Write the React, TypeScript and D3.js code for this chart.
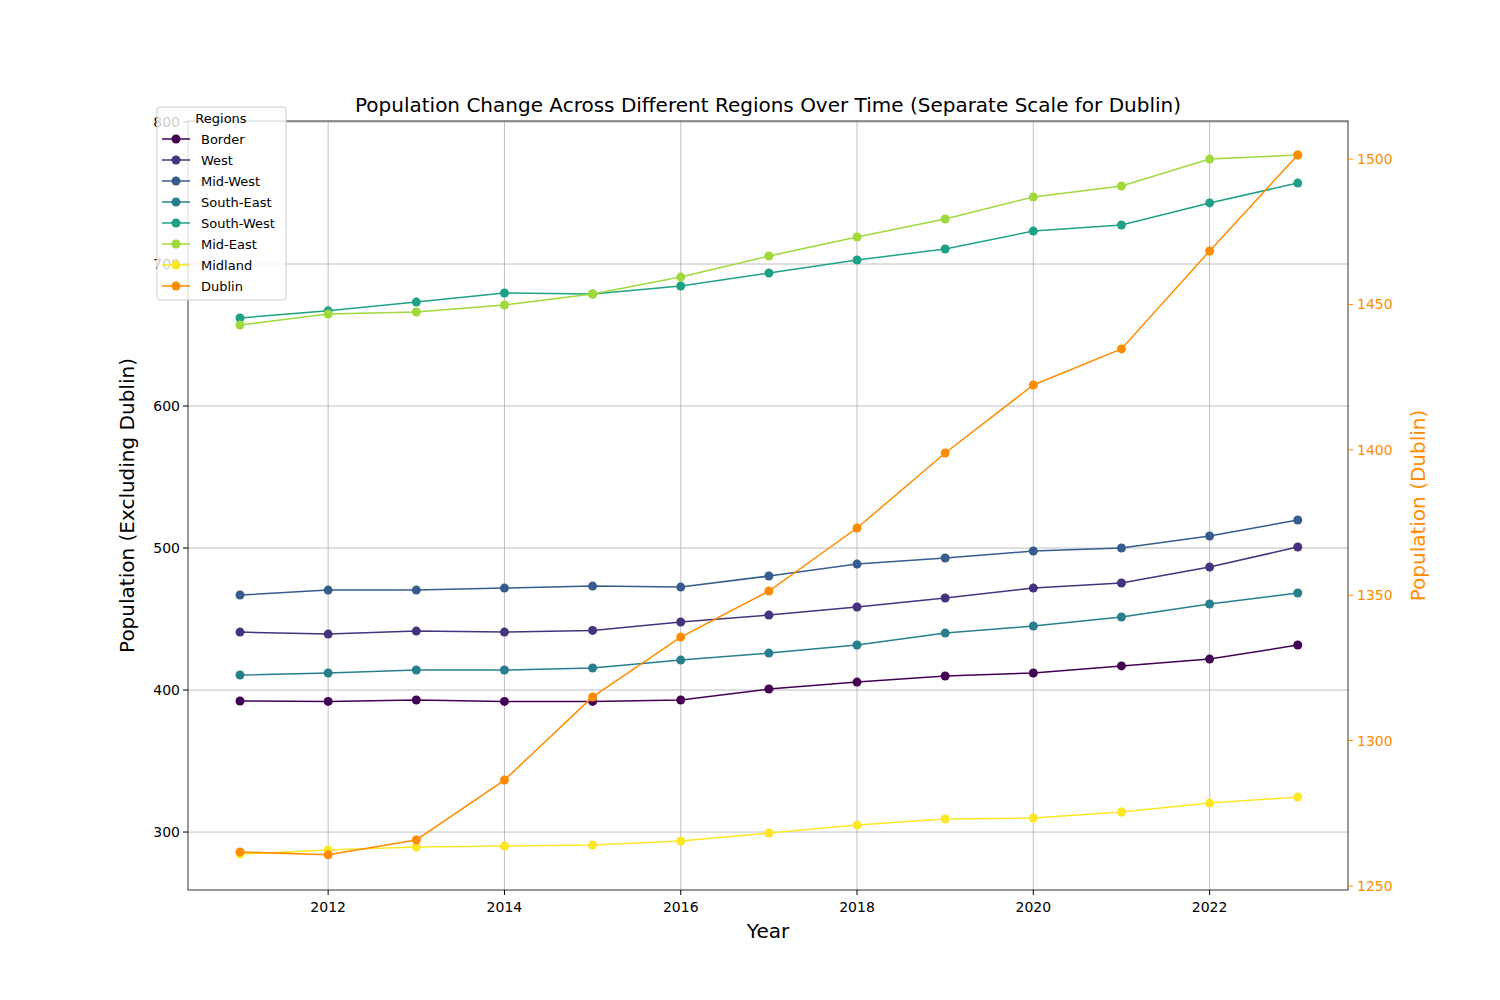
import React from "react";
import * as d3 from "d3";

const years = [2011,2012,2013,2014,2015,2016,2017,2018,2019,2020,2021,2022,2023];
const regionNames = ["Border","West","Mid-West","South-East","South-West","Mid-East","Midland"];
const regionColors = ["#440154","#46327e","#365c8d","#277f8e","#1fa187","#9fda3a","#fde725"];
const border = [392.3,392,393,392,392,393,400.7,405.6,409.9,412,417,421.8,431.7];
const west = [440.8,439.4,441.5,440.8,442,447.9,452.8,458.5,464.8,471.8,475.4,486.6,500.7];
const midWest = [466.9,470.4,470.4,471.8,473.2,472.5,480.3,488.7,493,497.9,500,508.5,519.7];
const southEast = [410.6,412,414.1,414.1,415.5,421.1,426,431.7,440.1,445.1,451.4,460.6,468.3];
const southWest = [662,667,673.2,679.6,678.9,684.5,693.7,702.8,710.6,723.2,727.5,743,757];
const midEast = [657,664.8,666.2,671.1,678.9,690.8,705.6,719,731.7,747.2,754.9,773.9,776.8];
const midland = [284.5,287.3,289.4,290.1,290.8,293.7,299.3,304.9,309.2,309.9,314.1,320.4,324.6];
const dublin = [1261.7,1260.7,1265.8,1286.4,1315,1335.6,1351.4,1373.1,1398.9,1422.3,1434.7,1468.4,1501.4];
const series = [border, west, midWest, southEast, southWest, midEast, midland];
const xTicks = [2012,2014,2016,2018,2020,2022];
const yTicks = [300,400,500,600,700,800];
const y2Ticks = [1250,1300,1350,1400,1450,1500];

const L = 188, R = 1348, T = 121, B = 890;
const font = "DejaVu Sans, sans-serif";
const orange = "#ff8c00";

export default function App() {
  const x = d3.scaleLinear().domain([2010.41, 2023.57]).range([L, R]);
  const y = d3.scaleLinear().domain([259.2, 800.7]).range([B, T]);
  const y2 = d3.scaleLinear().domain([1248.6, 1513.1]).range([B, T]);
  const colors = regionColors;
  const line = (ys: d3.ScaleLinear<number, number>) =>
    d3.line<number>().x((_, i) => x(years[i])).y(v => ys(v));
  const entries = [...regionNames.map((n, i) => ({ n, c: colors[i] })), { n: "Dublin", c: orange }];
  return (
    <svg width={1500} height={1000} style={{ display: "block", margin: -8 }} fontFamily={font}>
      <rect width={1500} height={1000} fill="#fff" />
      {xTicks.map(t => <line key={t} x1={x(t)} x2={x(t)} y1={T} y2={B} stroke="#b0b0b0" strokeWidth={0.8} />)}
      {yTicks.map(t => <line key={t} x1={L} x2={R} y1={y(t)} y2={y(t)} stroke="#b0b0b0" strokeWidth={0.8} />)}
      {series.map((s, i) => (
        <g key={i}>
          <path d={line(y)(s) || ""} fill="none" stroke={colors[i]} strokeWidth={1.5} />
          {s.map((v, j) => <circle key={j} cx={x(years[j])} cy={y(v)} r={4.5} fill={colors[i]} />)}
        </g>
      ))}
      <path d={line(y2)(dublin) || ""} fill="none" stroke={orange} strokeWidth={1.5} />
      {dublin.map((v, j) => <circle key={j} cx={x(years[j])} cy={y2(v)} r={4.5} fill={orange} />)}
      <rect x={L} y={T} width={R - L} height={B - T} fill="none" stroke="#000" strokeWidth={0.8} />
      {xTicks.map(t => (
        <g key={t}>
          <line x1={x(t)} x2={x(t)} y1={B} y2={B + 5} stroke="#000" />
          <text x={x(t)} y={B + 22} textAnchor="middle" fontSize={14}>{t}</text>
        </g>
      ))}
      {yTicks.map(t => (
        <g key={t}>
          <line x1={L - 5} x2={L} y1={y(t)} y2={y(t)} stroke="#000" />
          <text x={L - 8} y={y(t) + 5} textAnchor="end" fontSize={14}>{t}</text>
        </g>
      ))}
      {y2Ticks.map(t => (
        <g key={t}>
          <line x1={R} x2={R + 5} y1={y2(t)} y2={y2(t)} stroke={orange} />
          <text x={R + 9} y={y2(t) + 5} fontSize={14} fill={orange}>{t}</text>
        </g>
      ))}
      <text x={(L + R) / 2} y={938} textAnchor="middle" fontSize={20}>Year</text>
      <text transform={`translate(134,${(T + B) / 2}) rotate(-90)`} textAnchor="middle" fontSize={20}>Population (Excluding Dublin)</text>
      <text transform={`translate(1425,${(T + B) / 2}) rotate(-90)`} textAnchor="middle" fontSize={20} fill={orange}>Population (Dublin)</text>
      <text x={(L + R) / 2} y={112} textAnchor="middle" fontSize={20}>Population Change Across Different Regions Over Time (Separate Scale for Dublin)</text>
      <rect x={157} y={107} width={129} height={193} rx={3} fill="#fff" fillOpacity={0.8} stroke="#ccc" />
      <text x={221} y={123} textAnchor="middle" fontSize={13}>Regions</text>
      {entries.map((e, i) => (
        <g key={e.n} transform={`translate(0,${139 + i * 21})`}>
          <line x1={162} x2={190} y1={0} y2={0} stroke={e.c} strokeWidth={1.5} />
          <circle cx={176} cy={0} r={4.5} fill={e.c} />
          <text x={201} y={4.5} fontSize={13}>{e.n}</text>
        </g>
      ))}
    </svg>
  );
}
